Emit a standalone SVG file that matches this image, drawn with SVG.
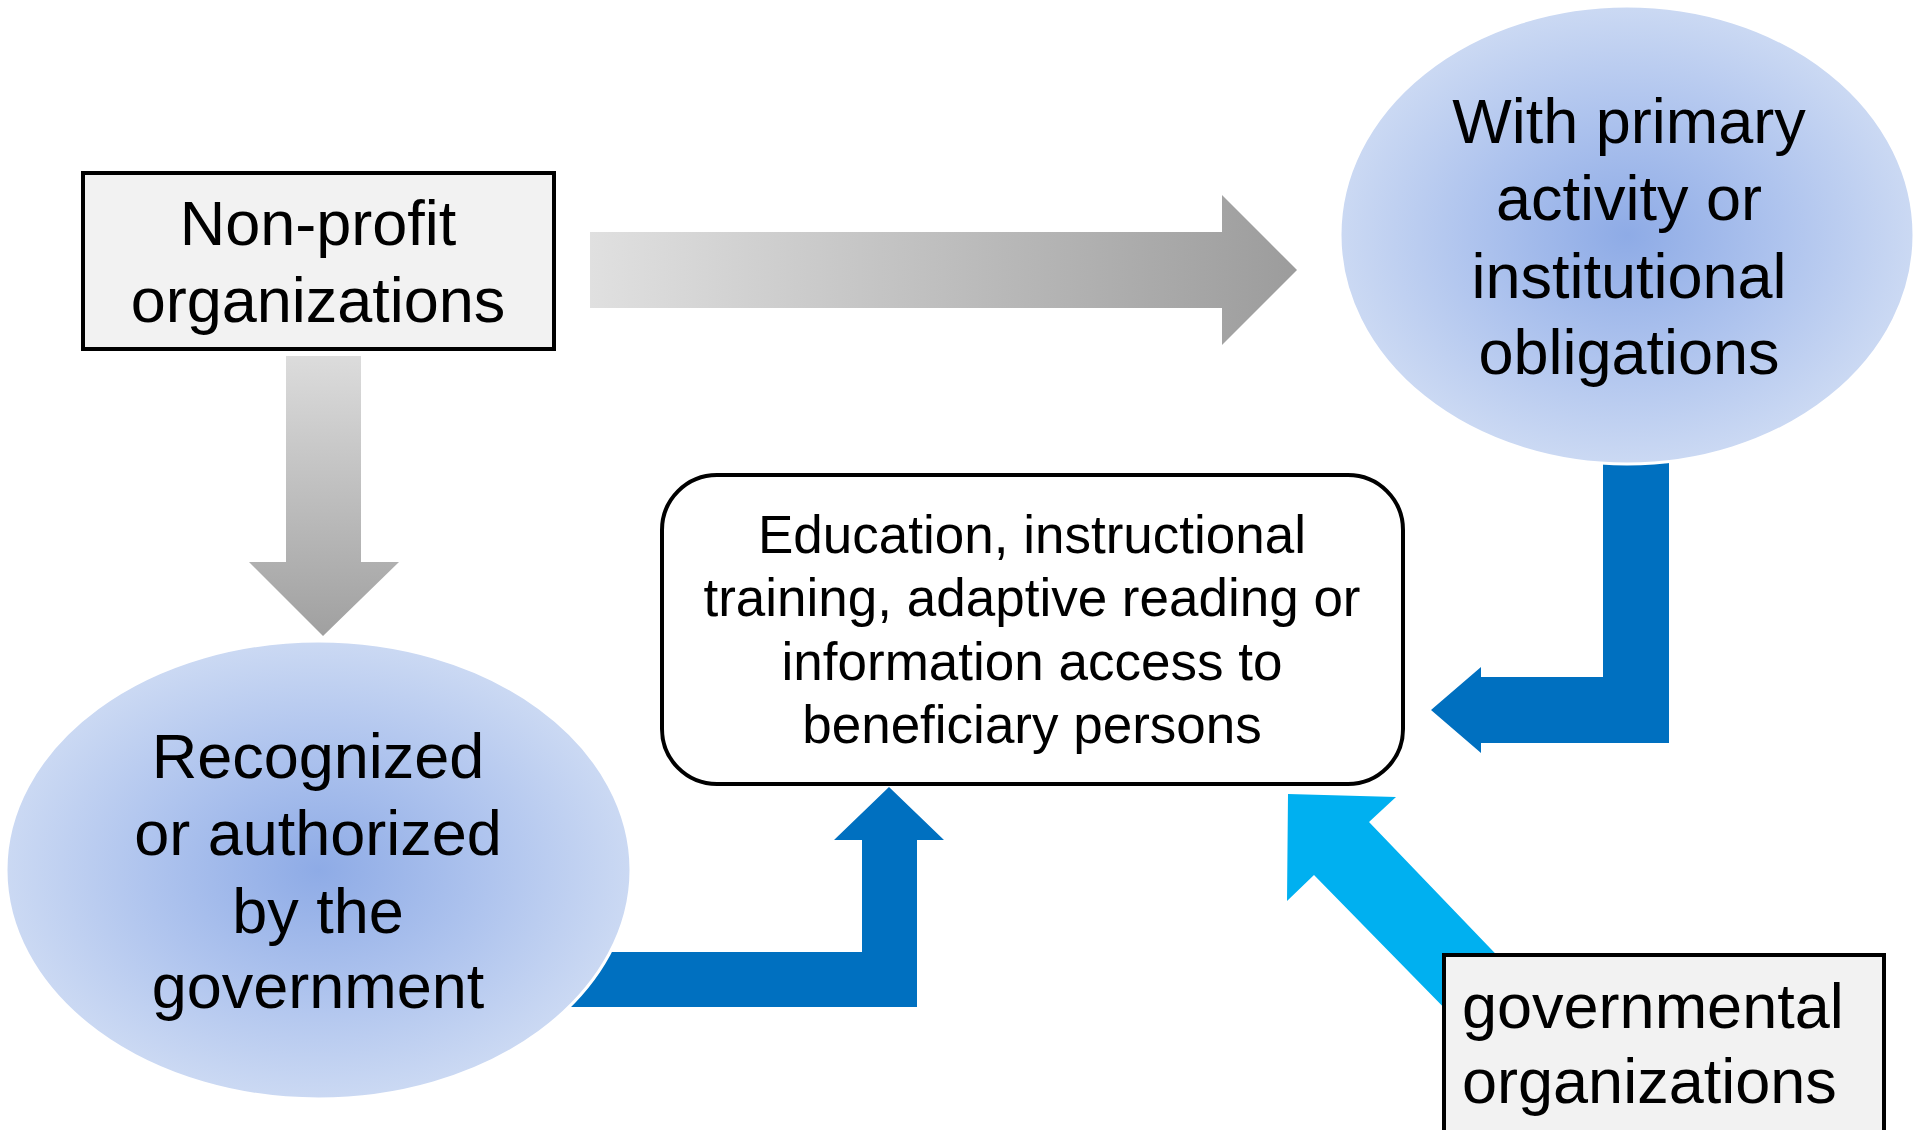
<svg xmlns="http://www.w3.org/2000/svg" width="1915" height="1130" viewBox="0 0 1915 1130">
<style>
text{font-family:"Liberation Sans",Arial,sans-serif;fill:#000}
.big{font-size:63px;text-anchor:middle}
.mid{font-size:53px;text-anchor:middle}
.box{fill:#f2f2f2;stroke:#000;stroke-width:4}
.ell{fill:url(#rg);stroke:#fff;stroke-width:3}
.blue{fill:#0070c0}
.cyan{fill:#00b0f0}
</style>
<defs>
<linearGradient id="gh" x1="0" y1="0" x2="1" y2="0">
<stop offset="0" stop-color="#e0e0e0"/>
<stop offset="1" stop-color="#9c9c9c"/>
</linearGradient>
<linearGradient id="gv" x1="0" y1="0" x2="0" y2="1">
<stop offset="0" stop-color="#dcdcdc"/>
<stop offset="1" stop-color="#a0a0a0"/>
</linearGradient>
<radialGradient id="rg" cx="0.5" cy="0.5" r="0.5">
<stop offset="0" stop-color="#8eabe6"/>
<stop offset="0.55" stop-color="#afc4ee"/>
<stop offset="1" stop-color="#cbd9f3"/>
</radialGradient>
</defs>
<g id="connectors">
<path d="M590 232 H1222 V195 L1297 270 L1222 345 V308 H590 Z" fill="url(#gh)"/>
<path d="M286 356 H361 V562 H399 L323 636 L249 562 H286 Z" fill="url(#gv)"/>
<path class="blue" d="M500 952 H862 V840 H834 L889 787 L944 840 H917 V1007 H500 Z"/>
<path class="blue" d="M1603 440 H1669 V743 H1481 V753 L1431 710 L1481 667 V677 H1603 Z"/>
<path class="cyan" d="M1288 794 L1396 797 L1369 822 L1560 1021 L1505 1070 L1314 875 L1287 901 Z"/>
</g>
<g id="node-nonprofit">
<rect class="box" x="83" y="173" width="471" height="176"/>
<text class="big" x="318" y="245">Non-profit</text>
<text class="big" x="318" y="322">organizations</text>
</g>
<g id="node-primary">
<ellipse class="ell" cx="1627" cy="235" rx="287" ry="229"/>
<text class="big" x="1629" y="143">With primary</text>
<text class="big" x="1629" y="220">activity or</text>
<text class="big" x="1629" y="298">institutional</text>
<text class="big" x="1629" y="374">obligations</text>
</g>
<g id="node-recognized">
<ellipse class="ell" cx="318.5" cy="870" rx="312.5" ry="229"/>
<text class="big" x="318" y="778">Recognized</text>
<text class="big" x="318" y="855">or authorized</text>
<text class="big" x="318" y="933">by the</text>
<text class="big" x="318" y="1008">government</text>
</g>
<g id="node-education">
<rect x="662" y="475" width="741" height="309" rx="55" ry="55" fill="#fff" stroke="#000" stroke-width="4"/>
<text class="mid" x="1032" y="553">Education, instructional</text>
<text class="mid" x="1032" y="616">training, adaptive reading or</text>
<text class="mid" x="1032" y="680">information access to</text>
<text class="mid" x="1032" y="743">beneficiary persons</text>
</g>
<g id="node-governmental">
<rect class="box" x="1444" y="955" width="440" height="190"/>
<text x="1462" y="1028" style="font-size:63px">governmental</text>
<text x="1462" y="1103" style="font-size:63px">organizations</text>
</g>
</svg>
